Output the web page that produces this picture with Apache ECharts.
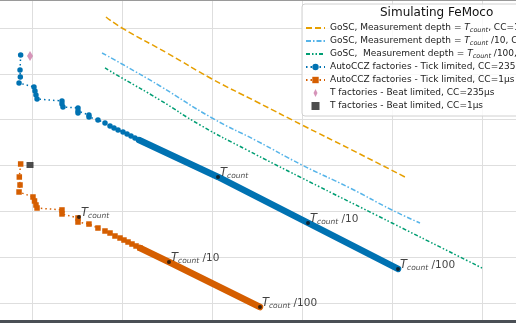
<!DOCTYPE html>
<html><head><meta charset="utf-8">
<script src="https://cdn.jsdelivr.net/npm/echarts@6/dist/echarts.min.js"></script>
<style>html,body{margin:0;padding:0;background:#fff}#c{width:516px;height:323px}</style>
</head><body><div id="c"></div>
<script>
// values in decades (log10 units)
const goscTcount = [[1.822,7.240],[2.0,7.000],[2.5,6.455],[3.0,5.888],[3.5,5.386],[4.0,4.884],[4.533,4.360],[5.144,3.749]];
const goscTcount10 = [[1.778,6.455],[2.0,6.215],[2.422,5.735],[3.0,5.037],[3.5,4.535],[4.0,4.011],[4.533,3.509],[5.0,3.029],[5.311,2.746]];
const goscTcount100 = [[1.811,6.128],[2.0,5.909],[2.422,5.429],[2.867,4.884],[3.389,4.338],[4.0,3.727],[5.0,2.746],[6.0,1.764]];
const autoCCZ235 = [[0.874,6.411],[0.867,6.084],[0.870,5.931],[0.856,5.800],[1.022,5.713],[1.033,5.626],[1.044,5.539],[1.056,5.451],
  [1.333,5.408],[1.333,5.342],[1.344,5.277],[1.511,5.255],[1.511,5.189],[1.511,5.146],[1.633,5.102],[1.633,5.058],[1.733,4.993],
  [1.811,4.927],[1.867,4.862],[1.911,4.818],[1.956,4.775],[2.011,4.731],[2.056,4.687],[2.100,4.644],[2.144,4.600],[2.189,4.556]];
const autoCCZ235Dense = [[2.189,4.556],[3.067,3.750],[4.067,2.747],[5.067,1.743]];
const autoCCZ1 = [[0.874,4.033],[0.859,3.749],[0.867,3.575],[0.856,3.422],[1.011,3.313],[1.028,3.226],[1.044,3.139],[1.056,3.073],
  [1.333,3.030],[1.333,2.943],[1.511,2.855],[1.511,2.767],[1.633,2.723],[1.733,2.636],[1.811,2.571],[1.867,2.527],[1.922,2.462],
  [1.978,2.418],[2.022,2.374],[2.067,2.331],[2.111,2.287],[2.156,2.244],[2.2,2.2]];
const autoCCZ1Dense = [[2.2,2.2],[2.522,1.895],[3.533,0.913]];
const tFact235 = [[0.978,6.390]];
const tFact1 = [[0.978,4.011]];
const marks235 = [[3.067,3.750,''],[4.067,2.747,' /10'],[5.067,1.743,' /100']];
const marks1 = [[1.522,2.876,''],[2.522,1.895,' /10'],[3.533,0.913,' /100']];
const seriesNames = [
  'GoSC, Measurement depth = T_count, CC=1μs',
  'GoSC, Measurement depth = T_count /10, CC=1μs',
  'GoSC,  Measurement depth = T_count /100, CC=1μs',
  'AutoCCZ factories - Tick limited, CC=235μs',
  'AutoCCZ factories - Tick limited, CC=1μs',
  'T factories - Beat limited, CC=235μs',
  'T factories - Beat limited, CC=1μs'
];
const titleText = 'Simulating FeMoco';

const FONT = 'DejaVu Sans';
const chart = echarts.init(document.getElementById('c'), null, {renderer:'canvas'});
const markLabel = {
  show:true, position:'right', distance:0, offset:[0,-4], fontFamily:FONT, color:'#111',
  formatter: p => '{t|T}{s|count}{n|' + p.data[2] + '}',
  rich:{ t:{fontSize:11.5, fontStyle:'italic', fontFamily:FONT, color:'#111'},
         s:{fontSize:7.5, fontStyle:'italic', fontFamily:FONT, color:'#111', verticalAlign:'bottom', padding:[6,0,0,0]},
         n:{fontSize:10.5, fontFamily:FONT, color:'#111'} }
};
const hideSym = {color:'rgba(0,0,0,0)', borderColor:'rgba(0,0,0,0)', borderWidth:0};
chart.setOption({
  animation:false,
  backgroundColor:'#fff',
  grid:{left:-58, top:-17.83, width:630, height:366.67, containLabel:false, outerBoundsMode:'none'},
  xAxis:{type:'value', min:0, max:7, interval:1, axisLine:{show:false}, axisTick:{show:false}, axisLabel:{show:false},
    splitLine:{show:true, lineStyle:{color:'#dedede', width:1}}},
  yAxis:{type:'value', min:0, max:8, interval:1, axisLine:{show:false}, axisTick:{show:false}, axisLabel:{show:false},
    splitLine:{show:true, lineStyle:{color:'#dedede', width:1}}},
  graphic:[
    {type:'rect', shape:{x:0, y:0, width:516, height:1}, style:{fill:'#9a9a9a'}, z:10},
    {type:'rect', shape:{x:0, y:320, width:516, height:3}, style:{fill:'#4a4f55'}, z:10},
    {type:'rect', shape:{x:302, y:4, width:240, height:112, r:3}, style:{fill:'rgba(255,255,255,0.8)', stroke:'#d0d0d0', lineWidth:1}, z:20},
    {type:'text', left:380, top:7, style:{text:titleText, font:'12px "DejaVu Sans"', fill:'#111'}, z:21}
  ],
  legend:{
    orient:'vertical', left:305, top:22, padding:0, itemGap:1, itemWidth:19, itemHeight:8, z:22,
    data:[
      {name:seriesNames[0], itemStyle:hideSym},
      {name:seriesNames[1], itemStyle:hideSym},
      {name:seriesNames[2], itemStyle:hideSym},
      seriesNames[3], seriesNames[4],
      {name:seriesNames[5], icon:'path://M3,0 L6,6 L3,12 L0,6 Z'},
      {name:seriesNames[6], icon:'path://M0,0 L10,0 L10,10 L0,10 Z'}
    ],
    selectedMode:false,
    textStyle:{fontFamily:FONT, fontSize:9, color:'#222', lineHeight:12,
      rich:{ i:{fontSize:9, fontStyle:'italic', fontFamily:FONT, color:'#222', lineHeight:12},
             s:{fontSize:6.5, fontStyle:'italic', fontFamily:FONT, color:'#222', verticalAlign:'bottom', lineHeight:12, padding:[4,0,0,0]} }},
    formatter: n => n.replace('T_count', '{i|T}{s|count}')
  },
  series:[
    {name:seriesNames[0], type:'line', data:goscTcount, symbol:'none', smooth:true, z:3,
      lineStyle:{color:'#E69F00', width:1.5, type:[6,3]}, itemStyle:{color:'#E69F00'}},
    {name:seriesNames[1], type:'line', data:goscTcount10, symbol:'none', smooth:true, z:3,
      lineStyle:{color:'#56B4E9', width:1.5, type:[5,2,1.5,2]}, itemStyle:{color:'#56B4E9'}},
    {name:seriesNames[2], type:'line', data:goscTcount100, symbol:'none', smooth:true, z:3,
      lineStyle:{color:'#009E73', width:1.5, type:[4,2,1.5,2,1.5,2]}, itemStyle:{color:'#009E73'}},
    {name:seriesNames[3], type:'line', data:autoCCZ235, symbol:'circle', symbolSize:5.5, z:4,
      lineStyle:{color:'#0072B2', width:1.5, type:[1.5,3]}, itemStyle:{color:'#0072B2'}},
    {name:'dense235', type:'line', data:autoCCZ235Dense, symbol:'none', z:4,
      lineStyle:{color:'#0072B2', width:6.5, cap:'round'}},
    {name:seriesNames[4], type:'line', data:autoCCZ1, symbol:'rect', symbolSize:5.5, z:4,
      lineStyle:{color:'#D55E00', width:1.5, type:[1.5,3]}, itemStyle:{color:'#D55E00'}},
    {name:'dense1', type:'line', data:autoCCZ1Dense, symbol:'none', z:4,
      lineStyle:{color:'#D55E00', width:6.5, cap:'round'}},
    {name:seriesNames[5], type:'scatter', data:tFact235, symbol:'diamond', symbolSize:[6,10], z:5,
      itemStyle:{color:'#CC79A7'}},
    {name:seriesNames[6], type:'scatter', data:tFact1, symbol:'rect', symbolSize:[7,6], z:5,
      itemStyle:{color:'#222'}},
    {name:'marks235', type:'scatter', data:marks235, symbol:'circle', symbolSize:4, z:6,
      itemStyle:{color:'#111'}, label:markLabel},
    {name:'marks1', type:'scatter', data:marks1, symbol:'circle', symbolSize:4, z:6,
      itemStyle:{color:'#111'}, label:markLabel}
  ]
});
</script></body></html>
